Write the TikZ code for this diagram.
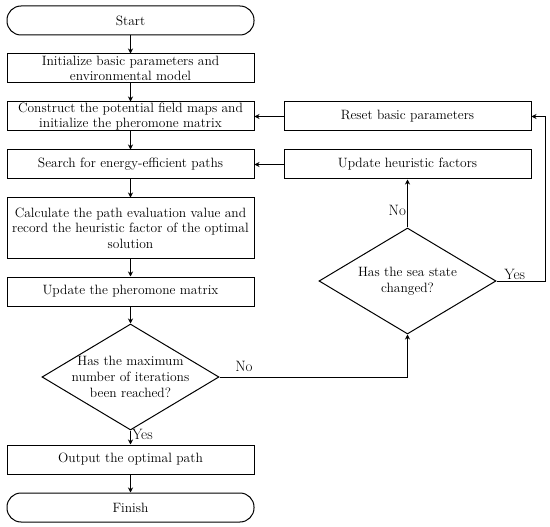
\documentclass[tikz,border=0pt]{standalone}
\usepackage{tikz}
\usetikzlibrary{shapes.geometric, arrows.meta, positioning}
\tikzset{
  block/.style={
    rectangle,
    minimum width=247pt, minimum height=29pt,
    align=center, inner xsep=2pt, inner ysep=0pt,
    draw=black, line width=1pt,
    font=\fontsize{13.5pt}{15pt}\selectfont
  },
  terminal/.style={
    block, rounded corners=14pt
  },
  decision/.style={
    diamond,
    minimum width=177pt, minimum height=106pt,
    inner sep=0pt,
    draw=black, line width=1pt
  },
  question/.style={align=center, font=\fontsize{13.5pt}{16pt}\selectfont},
  arrow/.style={-{Stealth[length=5pt, width=5pt]}, line width=1pt, black},
  tag/.style={font=\fontsize{15pt}{17pt}\selectfont, inner sep=1pt}
}
\begin{document}
\begin{tikzpicture}[x=1pt, y=1pt]
  \useasboundingbox (0,0) rectangle (550,-527);

  \node[terminal] (start) at (130.5,-20.5) {Start};

  \node[block, below=18pt of start] (init) {Initialize basic parameters and\\environmental model};

  \node[block, below=18pt of init] (construct) {Construct the potential field maps and\\initialize the pheromone matrix};

  \node[block, below=18pt of construct] (search) {Search for energy-efficient paths};

  \node[block, below=18pt of search, minimum height=60pt, font=\fontsize{13.5pt}{15.5pt}\selectfont] (calc) {Calculate the path evaluation value and\\record the heuristic factor of the optimal\\solution};

  \node[block, below=18pt of calc] (update) {Update the pheromone matrix};

  \node[decision, below=17pt of update, label={[question]center:Has the maximum\\number of iterations\\been reached?}] (maxiter) {};

  \node[block, below=14pt of maxiter] (output) {Output the optimal path};

  \node[terminal, below=18pt of output] (finish) {Finish};

  \node[block, right=29pt of construct] (reset) {Reset basic parameters};

  \node[block, right=29pt of search] (heur) {Update heuristic factors};

  \node[decision, below=48pt of heur, label={[question]center:Has the sea state\\changed?}] (seastate) {};

  \coordinate (yesturn) at ([xshift=49pt]seastate.east);

  \draw[arrow] (start) -- (init);
  \draw[arrow] (init) -- (construct);
  \draw[arrow] (construct) -- (search);
  \draw[arrow] (search) -- (calc);
  \draw[arrow] (calc) -- (update);
  \draw[arrow] (update) -- (maxiter);
  \draw[arrow] (maxiter) -- node[tag, right, pos=0.3]{Yes} (output);
  \draw[arrow] (output) -- (finish);
  \draw[arrow] (maxiter.east) -- node[tag, above, pos=0.13, yshift=4pt]{No} (maxiter.east -| seastate.south) -- (seastate.south);
  \draw[arrow] (seastate.north) -- node[tag, left, pos=0.36]{No} (heur.south);
  \draw[arrow] (seastate.east) -- node[tag, above, pos=0.37]{Yes} (yesturn) |- (reset.east);
  \draw[arrow] (reset) -- (construct);
  \draw[arrow] (heur) -- (search);

\end{tikzpicture}
\end{document}
